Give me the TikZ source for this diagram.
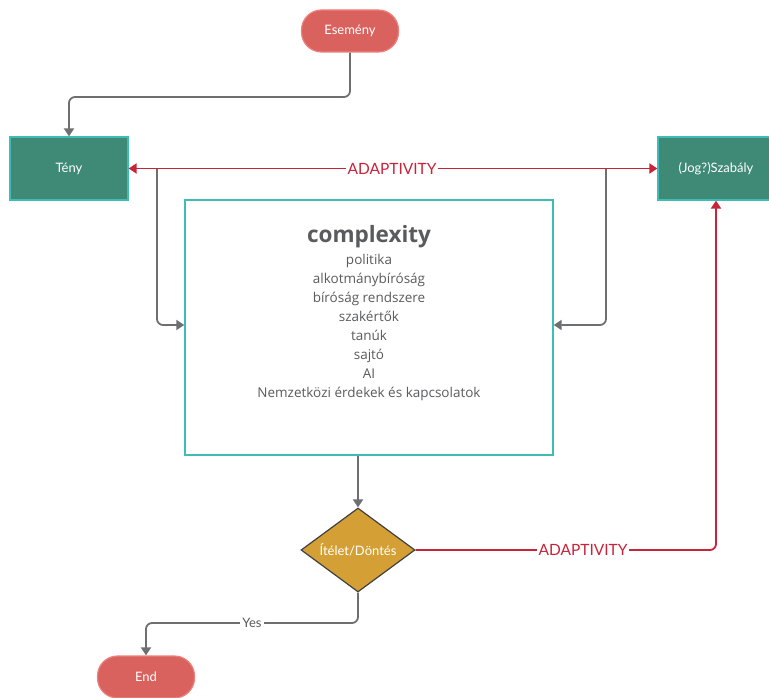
\documentclass[tikz,border=0pt]{standalone}
\usepackage{fontspec}
\setmainfont{Lato}
\newfontfamily\boxfont{Open Sans}
\usetikzlibrary{shapes.geometric,arrows.meta}

\definecolor{linegray}{HTML}{6E6F71}
\definecolor{adaptred}{HTML}{C9233A}
\definecolor{pillfill}{HTML}{D9625E}
\definecolor{pillline}{HTML}{F0807B}
\definecolor{factfill}{HTML}{3F8A76}
\definecolor{tealline}{HTML}{3DBDB5}
\definecolor{judgefill}{HTML}{D4A035}
\definecolor{boxtext}{HTML}{5A5B5D}

\tikzset{
  pill/.style={draw=pillline, line width=1.2pt, fill=pillfill, rounded corners=20pt,
    minimum width=97pt, minimum height=42pt, text=white, font=\fontsize{13}{15}\selectfont},
  factbox/.style={draw=tealline, line width=1.2pt, fill=factfill, minimum width=118pt,
    minimum height=63pt, text=white, font=\fontsize{13}{15}\selectfont},
  flow/.style={draw=linegray, line width=1.8pt, rounded corners=6pt,
    -{Triangle[length=8pt,width=10pt]}},
  adapt/.style={draw=adaptred, line width=1.8pt, rounded corners=6pt},
  adaptlabel/.style={fill=white, text=adaptred, inner sep=2pt, font=\fontsize{15.5}{17}\selectfont}
}

\begin{document}
\begin{tikzpicture}[x=1pt, y=-1pt]
        % Fix the page size
        \useasboundingbox (0,0) rectangle (769,698);

        % Start and end
        \node[pill] (event) at (350,31) {Esemény};
        \node[pill] (end) at (146,677) {End};

        % Fact and rule
        \node[factbox] (fact) at (69,168.5) {Tény};
        \node[factbox, minimum width=116pt] (rule) at (716,168.5) {(Jog?)Szabály};

        % The complexity box
        \node[draw=tealline, line width=1.4pt, fill=white, minimum width=368pt,
              minimum height=255pt] (cplx) at (369,327.5) {};
        \node[text=boxtext, align=center, font=\boxfont\fontsize{13.5}{19}\selectfont,
              anchor=north] (cplxtext) at (369,222) {%
          {\fontsize{22.5}{26}\selectfont\bfseries complexity}\\[3pt]
          politika\\ alkotmánybíróság\\ bíróság rendszere\\ szakértők\\
          tanúk\\ sajtó\\ AI\\ Nemzetközi érdekek és kapcsolatok};

        % The judgement
        \node[diamond, draw=black!75, line width=1.2pt, fill=judgefill, aspect=1.35,
              minimum width=114pt, minimum height=84pt, inner sep=0pt, text=white,
              font=\fontsize{13}{15}\selectfont] (judge) at (358,550) {Ítélet/Döntés};

        % Connectors
        \coordinate (leftdrop) at (157,169);
        \coordinate (rightdrop) at (606,169);
        \draw[flow] (event.south) |- (209,97) -| (fact.north);
        \draw[flow] (leftdrop) |- (cplx.west |- 0,325);
        \draw[flow] (rightdrop) |- (cplx.east |- 0,325);
        \draw[flow] (judge.north |- cplx.south) -- (judge.north);
        \draw[flow] (judge.south) |- (252,623) -| (end.north);
        \node[fill=white, text=linegray!80!black, inner sep=2pt,
              font=\fontsize{13}{15}\selectfont] (yes) at (252,623) {Yes};

        % Adaptivity
        \draw[adapt, {Triangle[length=8pt,width=10pt]}-{Triangle[length=8pt,width=10pt]}]
          (fact.east) -- (rule.west);
        \node[adaptlabel] (adapt1) at (392,169) {ADAPTIVITY};
        \draw[adapt, -{Triangle[length=8pt,width=10pt]}] (judge.east) -| (rule.south);
        \node[adaptlabel] (adapt2) at (583,550) {ADAPTIVITY};
    \end{tikzpicture}
\end{document}
